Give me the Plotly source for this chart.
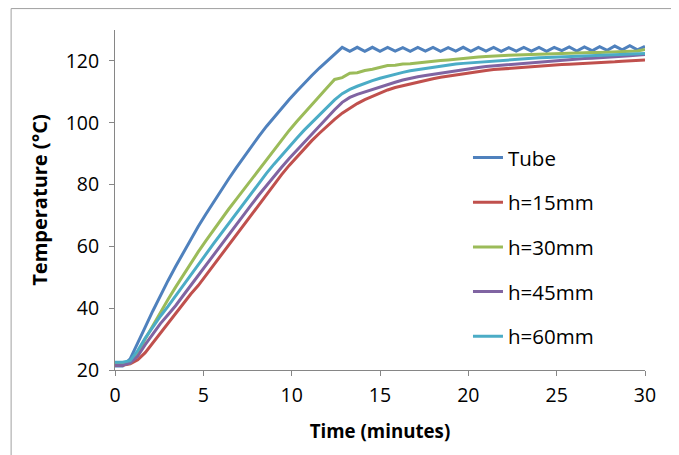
import plotly.graph_objects as go

time_min = [0, 0.43, 0.86, 1.29, 1.71, 2.14, 2.57, 3.0, 3.43, 3.86, 4.29, 4.71, 5.14, 5.57,
            6.0, 6.43, 6.86, 7.29, 7.71, 8.14, 8.57, 9.0, 9.43, 9.86, 10.29, 10.71, 11.14, 11.57,
            12.0, 12.43, 12.86, 13.29, 13.71, 14.14, 14.57, 15.0, 15.43, 15.86, 16.29, 16.71, 17.14, 17.57,
            18.0, 18.43, 18.86, 19.29, 19.71, 20.14, 20.57, 21.0, 21.43, 21.86, 22.29, 22.71, 23.14, 23.57,
            24.0, 24.43, 24.86, 25.29, 25.71, 26.14, 26.57, 27.0, 27.43, 27.86, 28.29, 28.71, 29.14, 29.57, 30.0]

tube = [21.3, 21.3, 23.6, 28.6, 33.9, 39.1, 44.1, 48.9, 53.5, 58.0, 62.3, 66.4, 70.4, 74.3,
        78.1, 81.8, 85.4, 88.9, 92.3, 95.6, 98.8, 101.8, 104.7, 107.5, 110.2, 112.8, 115.3, 117.7,
        120.0, 122.3, 124.4, 123.1, 124.4, 123.1, 124.4, 123.1, 124.4, 123.2, 124.3, 123.1, 124.4, 123.2,
        124.4, 123.1, 124.3, 123.2, 124.4, 123.1, 124.4, 123.2, 124.4, 123.1, 124.3, 123.2, 124.4, 123.2,
        124.4, 123.1, 124.4, 123.3, 124.5, 123.2, 124.5, 123.3, 124.6, 123.4, 124.8, 123.6, 124.9, 123.6, 124.7]

h15 = [21.5, 21.5, 22.0, 23.3, 25.6, 28.8, 32.1, 35.3, 38.5, 41.6, 44.6, 47.3, 50.6, 53.8,
       57.0, 60.3, 63.6, 67.0, 70.3, 73.6, 76.9, 80.1, 83.2, 86.2, 89.0, 91.7, 94.2, 96.6,
       98.9, 101.1, 103.1, 104.8, 106.2, 107.5, 108.6, 109.6, 110.6, 111.4, 112.0, 112.6, 113.2, 113.7,
       114.2, 114.7, 115.1, 115.5, 115.9, 116.3, 116.6, 116.9, 117.2, 117.4, 117.6, 117.8, 118.0, 118.2,
       118.3, 118.5, 118.7, 118.8, 118.9, 119.0, 119.2, 119.3, 119.4, 119.6, 119.7, 119.9, 120.0, 120.2, 120.3]

h30 = [21.8, 21.8, 22.3, 25.5, 30.0, 34.4, 38.7, 42.8, 46.8, 50.7, 54.5, 58.2, 61.8, 65.3,
       68.7, 72.0, 75.2, 78.4, 81.6, 84.9, 88.2, 91.4, 94.5, 97.5, 100.4, 103.2, 105.9, 108.6,
       111.3, 114.0, 114.6, 116.0, 116.2, 116.9, 117.3, 118.0, 118.5, 118.6, 119.0, 119.1, 119.4, 119.6,
       119.9, 120.1, 120.3, 120.6, 120.8, 121.0, 121.3, 121.4, 121.6, 121.7, 121.8, 121.9, 122.0, 122.1,
       122.2, 122.3, 122.4, 122.5, 122.5, 122.6, 122.7, 122.7, 122.7, 122.8, 122.7, 122.9, 123.0, 123.2, 123.7]

h45 = [21.5, 21.5, 22.3, 24.5, 28.2, 31.8, 35.0, 37.9, 40.8, 44.1, 47.4, 50.7, 54.0, 57.3,
       60.6, 63.8, 67.0, 70.2, 73.4, 76.6, 79.7, 82.7, 85.6, 88.4, 91.1, 93.7, 96.3, 98.9,
       101.5, 104.2, 106.6, 108.2, 109.2, 110.0, 110.9, 111.7, 112.4, 113.1, 113.8, 114.4, 114.9, 115.3,
       115.7, 116.1, 116.5, 116.9, 117.3, 117.6, 117.9, 118.2, 118.4, 118.6, 118.8, 119.1, 119.3, 119.6,
       119.8, 120.0, 120.2, 120.3, 120.5, 120.6, 120.8, 120.9, 121.0, 121.2, 121.3, 121.5, 121.7, 121.9, 122.1]

h60 = [22.5, 22.5, 23.0, 26.3, 30.3, 34.0, 37.4, 40.6, 43.9, 47.2, 50.6, 54.0, 57.4, 60.8,
       64.1, 67.4, 70.7, 74.0, 77.3, 80.5, 83.6, 86.6, 89.5, 92.3, 95.0, 97.6, 100.1, 102.6,
       105.0, 107.4, 109.4, 110.8, 111.8, 112.8, 113.6, 114.4, 115.1, 115.7, 116.3, 116.8, 117.2, 117.6,
       118.0, 118.4, 118.7, 119.0, 119.2, 119.4, 119.6, 119.8, 120.0, 120.2, 120.4, 120.6, 120.7, 120.9,
       121.0, 121.1, 121.2, 121.3, 121.4, 121.5, 121.6, 121.7, 121.8, 121.9, 122.0, 122.1, 122.2, 122.3, 122.4]

series_names = ["Tube", "h=15mm", "h=30mm", "h=45mm", "h=60mm"]
series_values = [tube, h15, h30, h45, h60]
colors = ["#4F81BD", "#C0504D", "#9BBB59", "#8064A2", "#4BACC6"]

x_ticks = [0, 5, 10, 15, 20, 25, 30]
y_ticks = [20, 40, 60, 80, 100, 120]

FONT = "'Open Sans', Lato, sans-serif"

fig = go.Figure()
for name, vals, col in zip(series_names, series_values, colors):
    fig.add_trace(go.Scatter(x=time_min, y=vals, mode="lines", name=name,
                             legendgroup=name,
                             line=dict(color=col, width=3)))

axis_common = dict(showline=True, linecolor="#868686", linewidth=1, ticks="outside",
                   tickcolor="#868686", ticklen=5, showgrid=False, zeroline=False,
                   tickfont=dict(family=FONT, size=19.5, color="#000000"))

fig.update_layout(
    width=671, height=447,
    margin=dict(l=107, r=34, t=22, b=85),
    paper_bgcolor="white", plot_bgcolor="white",
    font=dict(family=FONT, size=19, color="#000000"),
    xaxis=dict(range=[0, 30], tickvals=x_ticks, ticklabelstandoff=3,
               title=dict(text="<b>Time (minutes)</b>", font=dict(family=FONT, size=18.7), standoff=17),
               **axis_common),
    yaxis=dict(range=[20, 130], tickvals=y_ticks, ticklabelstandoff=6,
               title=dict(text="<b>Temperature (°C)</b>", font=dict(family=FONT, size=20), standoff=12),
               **axis_common),
    legend=dict(x=0.666, y=0.683, xanchor="left", yanchor="top", bgcolor="rgba(0,0,0,0)",
                font=dict(family=FONT, size=20.5), tracegroupgap=15, itemwidth=30),
    showlegend=True,
)

# outer chart frame (left and top edges visible)
fig.add_shape(type="line", xref="paper", yref="paper", x0=-0.196, x1=-0.196, y0=1.063, y1=-0.3,
              line=dict(color="#a0a0a0", width=1))
fig.add_shape(type="line", xref="paper", yref="paper", x0=-0.196, x1=1.1, y0=1.063, y1=1.063,
              line=dict(color="#a0a0a0", width=1))

fig.write_html("out.html")
